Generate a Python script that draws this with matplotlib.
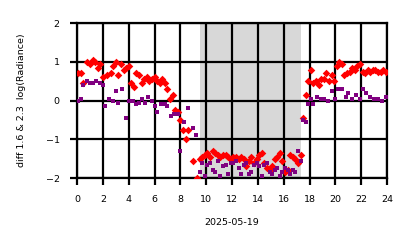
import numpy as np
import matplotlib
matplotlib.use("Agg")
import matplotlib.pyplot as plt

# hours of the day, red (diamond) series
red_t = [0.1, 0.3, 0.5, 0.8, 1.0, 1.2, 1.4, 1.6, 1.8, 2.0, 2.3, 2.6, 2.8, 3.0, 3.2, 3.4,
         3.6, 3.8, 4.0, 4.2, 4.4, 4.6, 4.8, 5.0, 5.2, 5.4, 5.6, 5.8, 6.0, 6.2, 6.4, 6.6,
         6.8, 7.0, 7.2, 7.4, 7.6, 7.8, 8.0, 8.2, 8.4, 8.6, 9.0, 9.3, 9.5, 9.7, 9.9,
         10.1, 10.3, 10.5, 10.7, 10.9, 11.1, 11.3, 11.5, 11.7, 11.9, 12.1, 12.3, 12.5,
         12.7, 12.9, 13.1, 13.3, 13.5, 13.7, 13.9, 14.1, 14.3, 14.5, 14.7, 14.9, 15.1,
         15.3, 15.5, 15.7, 15.9, 16.1, 16.3, 16.5, 16.7, 16.9, 17.1, 17.3, 17.5, 17.7,
         17.9, 18.1, 18.3, 18.5, 18.7, 18.9, 19.1, 19.3, 19.5, 19.7, 19.9, 20.1, 20.3,
         20.5, 20.7, 20.9, 21.1, 21.3, 21.5, 21.7, 21.9, 22.1, 22.3, 22.5, 22.7, 22.9,
         23.1, 23.3, 23.5, 23.7, 23.9]
red_v = [0.7, 0.7, 0.45, 1.0, 0.95, 1.05, 1.0, 0.85, 0.95, 0.6, 0.65, 0.7, 0.9, 1.0, 0.65,
         0.95, 0.8, 0.85, 0.9, 0.45, 0.35, 0.7, 0.65, 0.45, 0.55, 0.6, 0.5, 0.55, 0.6, 0.5,
         0.45, 0.55, 0.45, 0.3, 0.05, 0.15, -0.25, -0.3, -0.5, -0.75, -1.0, -0.75, -1.55,
         -2.0, -1.5, -1.45, -1.4, -1.35, -1.45, -1.3, -1.35, -1.4, -1.45, -1.4, -1.4,
         -1.45, -1.5, -1.45, -1.45, -1.5, -1.45, -1.5, -1.7, -1.55, -1.45, -1.6, -1.5,
         -1.4, -1.35, -1.6, -1.75, -1.8, -1.7, -1.5, -1.45, -1.35, -1.55, -1.85, -1.8,
         -1.4, -1.45, -1.5, -1.6, -1.4, -0.45, 0.15, 0.5, 0.8, 0.45, 0.5, 0.4, 0.55,
         0.55, 0.7, 0.5, 0.65, 0.5, 0.9, 1.0, 0.95, 0.65, 0.7, 0.75, 0.85, 0.8, 0.9,
         0.95, 0.75, 0.7, 0.8, 0.75, 0.8, 0.8, 0.75, 0.75, 0.8, 0.75]

# purple (square) series
pur_t = [0.1, 0.3, 0.5, 0.8, 1.0, 1.2, 1.5, 1.8, 2.0, 2.2, 2.5, 2.8, 3.0, 3.2, 3.5, 3.8,
         4.0, 4.3, 4.6, 4.8, 5.0, 5.3, 5.5, 5.8, 6.0, 6.2, 6.5, 6.8, 7.0, 7.3, 7.5, 7.8,
         8.0, 8.3, 8.6, 9.0, 9.2, 9.5, 9.7, 9.9, 10.1, 10.3, 10.5, 10.7, 10.9, 11.1,
         11.3, 11.5, 11.7, 11.9, 12.1, 12.3, 12.5, 12.7, 12.9, 13.1, 13.3, 13.5, 13.7,
         13.9, 14.1, 14.3, 14.5, 14.7, 14.9, 15.1, 15.3, 15.5, 15.7, 15.9, 16.1, 16.3,
         16.5, 16.7, 16.9, 17.1, 17.3, 17.5, 17.7, 17.9, 18.1, 18.3, 18.6, 18.9, 19.1,
         19.4, 19.7, 20.0, 20.2, 20.5, 20.8, 21.0, 21.3, 21.6, 21.9, 22.1, 22.4, 22.7,
         23.0, 23.3, 23.6, 23.9]
pur_v = [0.0, 0.05, 0.4, 0.5, 0.45, 0.45, 0.5, 0.45, 0.4, -0.15, 0.05, 0.0, 0.25, -0.05,
         0.3, -0.45, 0.0, 0.0, -0.1, -0.05, 0.05, -0.05, 0.1, 0.0, -0.15, -0.3, -0.1, -0.1,
         -0.15, -0.4, -0.35, -0.35, -1.3, -0.55, -0.2, -0.7, -0.9, -1.85, -1.6, -1.95,
         -1.65, -1.6, -1.8, -1.85, -1.55, -1.95, -1.7, -1.65, -1.9, -1.6, -1.6, -1.55,
         -1.75, -1.9, -1.65, -1.6, -1.9, -1.85, -1.65, -1.6, -1.7, -1.95, -1.65, -1.6,
         -1.85, -1.9, -1.8, -1.75, -1.95, -1.85, -1.75, -1.8, -1.9, -1.8, -1.85, -1.3,
         -1.55, -0.5, -0.55, -0.1, 0.05, -0.1, 0.1, 0.05, 0.05, 0.0, 0.25, 0.05, 0.3,
         0.3, 0.1, 0.2, 0.05, 0.15, 0.05, 0.3, 0.2, 0.1, 0.05, 0.05, 0.0, 0.1]

night_start, night_end = 9.5, 17.3

fig = plt.figure(figsize=(4.14, 2.48), dpi=100)
ax = fig.add_axes([0.186, 0.282, 0.749, 0.625])

ax.axvspan(night_start, night_end, color='gray', alpha=0.3, linewidth=0, zorder=0)
ax.grid(True, color='black', linewidth=1.6, zorder=1)
ax.set_axisbelow(True)
ax.scatter(red_t, red_v, marker='D', s=15, color='red', zorder=3, linewidths=0)
ax.scatter(pur_t, pur_v, marker='s', s=7, color='purple', zorder=3, linewidths=0)

ax.set_xlim(0, 24)
ax.set_ylim(-2, 2)
ax.set_xticks(np.arange(0, 25, 2))
ax.set_yticks([-2, -1, 0, 1, 2])
ax.tick_params(labelsize=6.8, width=1.6, length=5, pad=7.5)
for s in ax.spines.values():
    s.set_linewidth(1.6)

ax.set_xlabel('2025-05-19', fontsize=6.8, labelpad=10)
ax.set_ylabel('diff 1.6 & 2.3  log(Radiance)', fontsize=6.8, labelpad=14)

fig.savefig('out.png', dpi=100)
